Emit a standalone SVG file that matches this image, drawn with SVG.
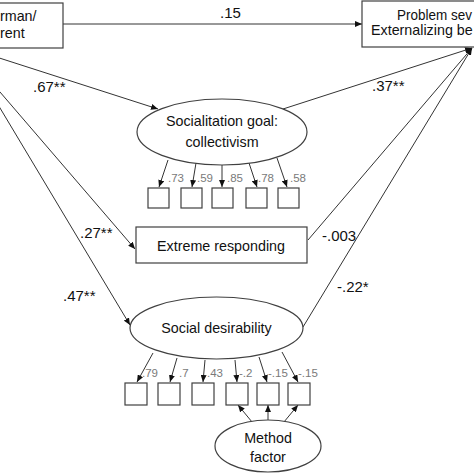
<svg xmlns="http://www.w3.org/2000/svg" width="474" height="474" viewBox="0 0 474 474">
<style>
.box{fill:#fff;stroke:#404040;stroke-width:1.2}
.ell{fill:#fff;stroke:#404040;stroke-width:1.2}
.t{font-family:"Liberation Sans",Arial,sans-serif;font-size:14.3px;fill:#111}
.lab{font-family:"Liberation Sans",Arial,sans-serif;font-size:15px;fill:#111}
.ld{font-family:"Liberation Sans",Arial,sans-serif;font-size:11.5px;fill:#7a7a7a}
.c{fill:none;stroke:#333;stroke-width:1;marker-end:url(#ah)}
</style>
<defs>
<marker id="ah" markerUnits="userSpaceOnUse" markerWidth="8" markerHeight="6" refX="7" refY="3" orient="auto">
<path d="M0,0 L7,3 L0,6 Z" fill="#111"/>
</marker>
</defs>
<rect width="474" height="474" fill="#fff"/>
<g id="connectors">
<line class="c" x1="63" y1="24" x2="362" y2="24"/>
<line class="c" x1="-10" y1="55" x2="158" y2="109"/>
<line class="c" x1="-10" y1="80.4" x2="135" y2="249"/>
<line class="c" x1="-10" y1="91.3" x2="130" y2="325"/>
<line class="c" x1="283" y1="109" x2="472" y2="48"/>
<line class="c" x1="308" y1="240" x2="472" y2="48"/>
<line class="c" x1="303" y1="327" x2="472" y2="48"/>
<line class="c" x1="168" y1="160" x2="159" y2="187"/>
<line class="c" x1="196" y1="163" x2="192" y2="187"/>
<line class="c" x1="222" y1="165" x2="222" y2="187"/>
<line class="c" x1="249" y1="163" x2="257" y2="187"/>
<line class="c" x1="277" y1="158" x2="287" y2="187"/>
<line class="c" x1="153" y1="353" x2="137" y2="382"/>
<line class="c" x1="177" y1="358" x2="170" y2="382"/>
<line class="c" x1="205" y1="360" x2="203" y2="382"/>
<line class="c" x1="235" y1="360" x2="237" y2="382"/>
<line class="c" x1="259" y1="357" x2="267" y2="382"/>
<line class="c" x1="282" y1="352" x2="298" y2="382"/>
<line class="c" x1="257" y1="428" x2="238" y2="405"/>
<line class="c" x1="268" y1="425" x2="268" y2="405"/>
<line class="c" x1="279" y1="428" x2="298" y2="405"/>
<text class="lab" x="220" y="18">.15</text>
<text class="lab" x="33" y="92">.67**</text>
<text class="lab" x="372" y="91">.37**</text>
<text class="lab" x="80" y="238">.27**</text>
<text class="lab" x="63" y="301">.47**</text>
<text class="lab" x="322" y="241">-.003</text>
<text class="lab" x="337" y="292">-.22*</text>
<text class="ld" x="168" y="182">.73</text>
<text class="ld" x="197" y="182">.59</text>
<text class="ld" x="227" y="182">.85</text>
<text class="ld" x="258" y="182">.78</text>
<text class="ld" x="290" y="182">.58</text>
<text class="ld" x="142" y="377">.79</text>
<text class="ld" x="179" y="377">.7</text>
<text class="ld" x="207" y="377">.43</text>
<text class="ld" x="239" y="377">-.2</text>
<text class="ld" x="268" y="377">-.15</text>
<text class="ld" x="298" y="377">-.15</text>
</g>
<g id="predictor">
<rect class="box" x="-10" y="3" width="73" height="45"/>
<text class="t" x="0" y="21">rman/</text>
<text class="t" x="0" y="38">rent</text>
</g>
<g id="outcome">
<rect class="box" x="362" y="1" width="130" height="46"/>
<text class="t" x="397" y="20" textLength="75" lengthAdjust="spacingAndGlyphs">Problem sev</text>
<text class="t" x="371" y="35">Externalizing be</text>
</g>
<g id="collectivism">
<ellipse class="ell" cx="222" cy="132" rx="85" ry="33"/>
<text class="t" x="222" y="126" text-anchor="middle">Socialitation goal:</text>
<text class="t" x="222" y="147" text-anchor="middle">collectivism</text>
</g>
<g id="coll-items">
<rect class="box" x="148" y="188" width="21" height="20"/>
<rect class="box" x="181" y="188" width="21" height="20"/>
<rect class="box" x="212" y="188" width="21" height="20"/>
<rect class="box" x="246" y="188" width="21" height="20"/>
<rect class="box" x="278" y="188" width="21" height="20"/>
</g>
<g id="extreme">
<rect class="box" x="136" y="227" width="171" height="36"/>
<text class="t" x="221" y="251" text-anchor="middle">Extreme responding</text>
</g>
<g id="desirability">
<ellipse class="ell" cx="216.5" cy="328" rx="86.5" ry="31"/>
<text class="t" x="216.5" y="333" text-anchor="middle">Social desirability</text>
</g>
<g id="sd-items">
<rect class="box" x="125" y="383" width="22" height="22"/>
<rect class="box" x="158" y="383" width="22" height="22"/>
<rect class="box" x="192" y="383" width="22" height="22"/>
<rect class="box" x="226" y="383" width="22" height="22"/>
<rect class="box" x="257" y="383" width="22" height="22"/>
<rect class="box" x="288" y="383" width="22" height="22"/>
</g>
<g id="method">
<ellipse class="ell" cx="268" cy="446" rx="53" ry="26"/>
<text class="t" x="268" y="443" text-anchor="middle">Method</text>
<text class="t" x="268" y="462" text-anchor="middle">factor</text>
</g>
</svg>
